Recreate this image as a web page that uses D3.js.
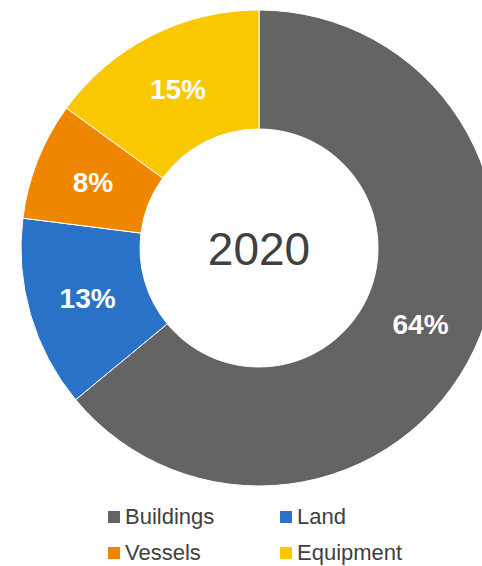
<!DOCTYPE html>
<html>
<head>
<meta charset="utf-8">
<script src="https://cdn.jsdelivr.net/npm/d3@7"></script>
<style>
  body { margin:0; background:#fff; }
  svg { display:block; font-family:"Liberation Sans", Arial, sans-serif; }
</style>
</head>
<body>
<svg id="chart"></svg>
<script>
// chart data
var categories = ["Buildings", "Land", "Vessels", "Equipment"];
var values = [64, 13, 8, 15];
var colors = ["#646464", "#2a72c7", "#ef8600", "#f9c800"];
var centerLabel = "2020";

var screen = {width:482, height:566};
var center = {x:259, y:248};
var radius = {outer:238, inner:119};

var svg = d3.select("#chart")
    .attr("width", screen.width)
    .attr("height", screen.height);

var data = categories.map(function(c, i) {
    return {name:c, value:values[i], color:colors[i]};
});

var pie = d3.pie()
    .sort(null)
    .value(function(d) { return d.value; });

var arc = d3.arc()
    .innerRadius(radius.inner)
    .outerRadius(radius.outer);

var g = svg.append("g")
    .attr("transform", "translate(" + center.x + "," + center.y + ")");

var slices = g.selectAll("g.slice")
    .data(pie(data))
    .enter()
    .append("g")
    .classed("slice", true);

slices.append("path")
    .attr("d", arc)
    .attr("fill", function(d) { return d.data.color; })
    .attr("stroke", "#fff")
    .attr("stroke-width", 1);

slices.append("text")
    .attr("transform", function(d) {
        var c = arc.centroid(d);
        return "translate(" + c[0] + "," + c[1] + ")";
    })
    .attr("text-anchor", "middle")
    .attr("dy", "0.36em")
    .attr("fill", "#fff")
    .attr("font-weight", "bold")
    .attr("font-size", 28)
    .text(function(d) { return d.data.value + "%"; });

g.append("text")
    .attr("text-anchor", "middle")
    .attr("y", 17)
    .attr("fill", "#404040")
    .attr("font-size", 46)
    .text(centerLabel);

// legend, 2 columns
var legendCols = [108, 280];
var legendRows = [524, 560];

var entries = svg.append("g")
    .classed("legend", true)
    .selectAll("g")
    .data(data)
    .enter()
    .append("g")
    .attr("transform", function(d, i) {
        return "translate(" + legendCols[i % 2] + "," + legendRows[Math.floor(i / 2)] + ")";
    });

entries.append("rect")
    .attr("x", 0)
    .attr("y", -13)
    .attr("width", 12)
    .attr("height", 12)
    .attr("fill", function(d) { return d.color; });

entries.append("text")
    .attr("x", 17)
    .attr("y", 0)
    .attr("fill", "#404040")
    .attr("font-size", 22)
    .text(function(d) { return d.name; });
</script>
</body>
</html>
